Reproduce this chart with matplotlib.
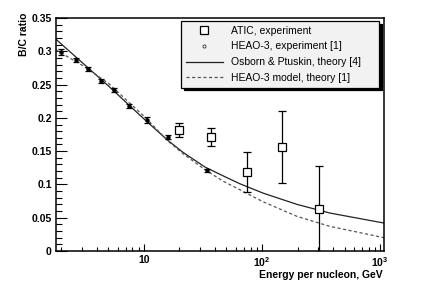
import matplotlib
matplotlib.use("Agg")
import matplotlib.pyplot as plt
from matplotlib.lines import Line2D
from matplotlib.ticker import FixedLocator, NullFormatter, MultipleLocator

plt.rcParams['font.family'] = ['Liberation Sans', 'DejaVu Sans']
plt.rcParams['mathtext.default'] = 'regular'

# ATIC experiment
atic_E = [19.8, 37.0, 74.7, 147.6, 304.0]
atic_y = [0.182, 0.171, 0.119, 0.156, 0.063]
atic_err = [0.011, 0.014, 0.030, 0.054, 0.064]

# HEAO-3 experiment
heao_E = [2.0, 2.65, 3.35, 4.33, 5.57, 7.46, 10.6, 16.0, 34.4]
heao_y = [0.299, 0.287, 0.273, 0.255, 0.242, 0.218, 0.197, 0.171, 0.121]
heao_err = [0.004, 0.003, 0.003, 0.003, 0.003, 0.003, 0.004, 0.003, 0.002]

# Osborn & Ptuskin theory
osb_E = [1.8, 3.0, 5.0, 7.6, 10.5, 16.0, 21.5, 33.0, 46.7, 65.0, 102.0, 198.0, 376.0, 1080.0]
osb_y = [0.318, 0.283, 0.248, 0.218, 0.195, 0.166, 0.148, 0.126, 0.113, 0.101, 0.087, 0.070, 0.057, 0.042]

# HEAO-3 model theory
mod_E = [1.8, 3.0, 5.0, 7.6, 10.5, 16.0, 21.5, 33.0, 46.7, 65.0, 102.0, 198.0, 376.0, 1080.0]
mod_y = [0.302, 0.279, 0.252, 0.222, 0.199, 0.165, 0.146, 0.122, 0.105, 0.092, 0.074, 0.052, 0.037, 0.020]

labels = ['ATIC, experiment', 'HEAO-3, experiment [1]',
          'Osborn & Ptuskin, theory [4]', 'HEAO-3 model, theory [1]']

x_ticks = [10, 100, 1000]
x_ticklabels = ['10', '$10^2$', '$10^3$']

fig = plt.figure(figsize=(4.4, 2.92), dpi=100)
ax = fig.add_axes([56/440, 41/292, 328/440, 233/292])

solid_style = dict(color='#222222', lw=0.9)
dash_style = dict(color='#555555', lw=0.9, ls=(0, (2.5, 2)))
ax.plot(osb_E, osb_y, **solid_style)
ax.plot(mod_E, mod_y, **dash_style)
ax.errorbar(heao_E, heao_y, yerr=heao_err, fmt='o', ms=2.2, color='black', mfc='black',
            elinewidth=0.9, capsize=2, capthick=0.9)
ax.errorbar(atic_E, atic_y, yerr=atic_err, fmt='s', ms=6, color='black', mfc='white', mew=0.9,
            elinewidth=0.9, capsize=3, capthick=0.9)

ax.set_xscale('log')
ax.set_xlim(1.8, 1080)
ax.set_ylim(0, 0.35)

ax.xaxis.set_major_locator(FixedLocator(x_ticks))
ax.set_xticklabels(x_ticklabels)
ax.xaxis.set_minor_locator(FixedLocator([m * 10**d for d in range(0, 3) for m in range(2, 10)]))
ax.xaxis.set_minor_formatter(NullFormatter())
ax.yaxis.set_major_locator(MultipleLocator(0.05))
ax.yaxis.set_minor_locator(MultipleLocator(0.01))
ax.yaxis.set_major_formatter(plt.FuncFormatter(lambda v, p: ('%g' % round(v, 2))))

ax.tick_params(axis='both', which='both', direction='in', top=False, right=False, width=0.8)
ax.tick_params(axis='y', which='major', length=7.7, labelsize=7.5, pad=3)
ax.tick_params(axis='y', which='minor', length=4)
ax.tick_params(axis='x', which='major', length=5, labelsize=7.5, pad=3)
ax.tick_params(axis='x', which='minor', length=3)
for lab in ax.get_xticklabels() + ax.get_yticklabels():
    lab.set_fontweight('bold')
for s in ax.spines.values():
    s.set_linewidth(1.1)

ax.text(-0.099, 1.021, 'B/C ratio', transform=ax.transAxes, rotation=90,
        ha='center', va='top', fontsize=7.5, fontweight='bold')
ax.text(0.997, -0.105, 'Energy per nucleon, GeV', transform=ax.transAxes,
        ha='right', va='center', fontsize=7.5, fontweight='bold')

handles = [
    Line2D([], [], ls='none', marker='s', ms=5.5, mfc='white', mec='black', mew=0.9),
    Line2D([], [], ls='none', marker='o', ms=2.2, mfc='white', mec='#444444', mew=0.7),
    Line2D([], [], **solid_style),
    Line2D([], [], **dash_style),
]
leg = ax.legend(handles, labels,
                loc='upper left', bbox_to_anchor=(0.381, 0.987, 0.604, 0.0), mode='expand',
                borderaxespad=0, fontsize=7.5, frameon=True, fancybox=False,
                shadow={'color': 'black', 'alpha': 1, 'ox': 2, 'oy': -2},
                handlelength=3.6, labelspacing=0.55, borderpad=0.45, handletextpad=0.8)
leg.get_frame().set_facecolor('#f2f2f2')
leg.get_frame().set_edgecolor('black')
leg.get_frame().set_linewidth(0.9)
leg.get_frame().set_alpha(1)

fig.savefig('out.png', dpi=100)
